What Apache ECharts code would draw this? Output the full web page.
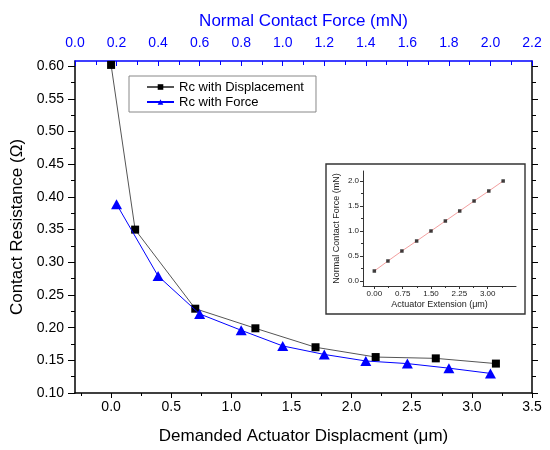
<!DOCTYPE html>
<html>
<head>
<meta charset="utf-8">
<script src="https://cdn.jsdelivr.net/npm/echarts@6/dist/echarts.min.js"></script>
<style>html,body{margin:0;padding:0;background:#fff}#c{width:550px;height:450px}</style>
</head>
<body>
<div id="c"></div>
<script>
// ---- data ----
const dispX = [0.0, 0.2, 0.7, 1.2, 1.7, 2.2, 2.7, 3.2];
const rcDisp = [0.602, 0.350, 0.229, 0.199, 0.170, 0.155, 0.153, 0.145];
const forceX = [0.2, 0.4, 0.6, 0.8, 1.0, 1.2, 1.4, 1.6, 1.8, 2.0];
const rcForce = [0.389, 0.279, 0.221, 0.196, 0.172, 0.159, 0.149, 0.145, 0.138, 0.130];
const insetExt = [0.0, 0.36, 0.73, 1.12, 1.50, 1.88, 2.26, 2.64, 3.03, 3.41];
const insetForce = [0.2, 0.4, 0.6, 0.8, 1.0, 1.2, 1.4, 1.6, 1.8, 2.0];
// ---- tick positions / labels ----
const bottomTicks = [0.0, 0.5, 1.0, 1.5, 2.0, 2.5, 3.0, 3.5];
const bottomMinor = [-0.25, 0.25, 0.75, 1.25, 1.75, 2.25, 2.75, 3.25];
const leftTicks = [0.10, 0.15, 0.20, 0.25, 0.30, 0.35, 0.40, 0.45, 0.50, 0.55, 0.60];
const leftMinor = [0.125, 0.175, 0.225, 0.275, 0.325, 0.375, 0.425, 0.475, 0.525, 0.575];
const insetXTicks = [0.0, 0.75, 1.5, 2.25, 3.0];
const insetXMinor = [0.375, 1.125, 1.875, 2.625, 3.375];
const insetYTicks = [0.0, 0.5, 1.0, 1.5, 2.0];
const insetYMinor = [0.25, 0.75, 1.25, 1.75];

const FONT = "'Liberation Sans', Arial, sans-serif";
const BLUE = '#0000ff';

const pair = (xs, ys) => xs.map((x, i) => [x, ys[i]]);

const chart = echarts.init(document.getElementById('c'), null, {renderer: 'canvas'});

function minorAxis(base, vals, len, color) {
  return Object.assign({
    type: 'value',
    axisLine: {show: false, onZero: false},
    axisLabel: {show: false},
    splitLine: {show: false},
    axisTick: {show: true, length: len, customValues: vals, lineStyle: {color: color || '#000', width: 1}}
  }, base);
}

const option = {
  animation: false,
  textStyle: {fontFamily: FONT},
  grid: [
    {left: 75, top: 61, width: 457, height: 334, containLabel: false},
    {left: 363, top: 171, width: 153, height: 115, containLabel: false}
  ],
  legend: {
    data: ['Rc with Displacement', 'Rc with Force'],
    orient: 'vertical',
    left: 129, top: 76,
    padding: [4, 12, 3, 17],
    itemWidth: 27, itemHeight: 7, itemGap: 1,
    borderColor: '#888', borderWidth: 1,
    textStyle: {fontFamily: FONT, fontSize: 13, lineHeight: 14, color: '#000'}
  },
  graphic: [{
    type: 'rect', z: 0,
    shape: {x: 326, y: 164, width: 199, height: 150},
    style: {fill: '#fff', stroke: '#333', lineWidth: 1.4}
  }],
  xAxis: [
    { // 0 bottom main
      type: 'value', gridIndex: 0, position: 'bottom', min: -0.3, max: 3.5,
      name: 'Demanded Actuator Displacment (\u03bcm)', nameLocation: 'middle', nameGap: 35,
      nameTextStyle: {fontFamily: FONT, fontSize: 17, color: '#000'},
      axisLine: {show: true, onZero: false, lineStyle: {color: '#000', width: 1.5}},
      axisTick: {show: true, length: 5, customValues: bottomTicks, lineStyle: {color: '#000', width: 1}},
      axisLabel: {customValues: bottomTicks, formatter: v => v.toFixed(1), margin: 7,
        fontFamily: FONT, fontSize: 14, color: '#000'},
      splitLine: {show: false}
    },
    minorAxis({gridIndex: 0, position: 'bottom', min: -0.3, max: 3.5}, bottomMinor, 3),
    { // 2 top (force)
      type: 'value', gridIndex: 0, position: 'top', min: 0, max: 2.2, interval: 0.2,
      name: 'Normal Contact Force (mN)', nameLocation: 'middle', nameGap: 31,
      nameTextStyle: {fontFamily: FONT, fontSize: 17, color: BLUE},
      axisLine: {show: true, onZero: false, lineStyle: {color: BLUE, width: 1.5}},
      axisTick: {show: true, inside: true, length: 5, lineStyle: {color: BLUE, width: 1}},
      minorTick: {show: true, splitNumber: 2, length: 4, lineStyle: {color: BLUE, width: 1}},
      axisLabel: {formatter: v => v.toFixed(1), margin: 11, fontFamily: FONT, fontSize: 14, color: BLUE},
      splitLine: {show: false}
    },
    { // 3 inset x
      type: 'value', gridIndex: 1, position: 'bottom', min: -0.3, max: 3.75,
      name: 'Actuator Extension (\u03bcm)', nameLocation: 'middle', nameGap: 14,
      nameTextStyle: {fontFamily: FONT, fontSize: 9, color: '#222'},
      axisLine: {show: true, onZero: false, lineStyle: {color: '#333', width: 1}},
      axisTick: {show: true, length: 3, customValues: insetXTicks, lineStyle: {color: '#333'}},
      axisLabel: {customValues: insetXTicks, formatter: v => v.toFixed(2), margin: 4,
        fontFamily: FONT, fontSize: 8, color: '#222'},
      splitLine: {show: false}
    },
    minorAxis({gridIndex: 1, position: 'bottom', min: -0.3, max: 3.75}, insetXMinor, 2, '#333')
  ],
  yAxis: [
    { // 0 left main
      type: 'value', gridIndex: 0, position: 'left', min: 0.1, max: 0.608,
      name: 'Contact Resistance (\u03a9)', nameLocation: 'middle', nameGap: 42,
      nameTextStyle: {fontFamily: FONT, fontSize: 17, color: '#000'},
      axisLine: {show: true, onZero: false, lineStyle: {color: '#000', width: 1.5}},
      axisTick: {show: true, length: 7, customValues: leftTicks, lineStyle: {color: '#000', width: 1}},
      axisLabel: {customValues: leftTicks, formatter: v => v.toFixed(2), margin: 11,
        fontFamily: FONT, fontSize: 14, color: '#000'},
      splitLine: {show: false}
    },
    minorAxis({gridIndex: 0, position: 'left', min: 0.1, max: 0.608}, leftMinor, 4),
    { // 2 right main
      type: 'value', gridIndex: 0, position: 'right', min: 0.1, max: 0.608,
      axisLine: {show: true, onZero: false, lineStyle: {color: '#000', width: 1.5}},
      axisTick: {show: true, length: 6, customValues: leftTicks, lineStyle: {color: '#000', width: 1}},
      axisLabel: {show: false},
      splitLine: {show: false}
    },
    minorAxis({gridIndex: 0, position: 'right', min: 0.1, max: 0.608}, leftMinor, 4),
    { // 4 inset y
      type: 'value', gridIndex: 1, position: 'left', min: -0.1, max: 2.2,
      name: 'Normal Contact Force (mN)', nameLocation: 'middle', nameGap: 22,
      nameTextStyle: {fontFamily: FONT, fontSize: 9, color: '#222'},
      axisLine: {show: true, onZero: false, lineStyle: {color: '#333', width: 1}},
      axisTick: {show: true, length: 3, customValues: insetYTicks, lineStyle: {color: '#333'}},
      axisLabel: {customValues: insetYTicks, formatter: v => v.toFixed(1), margin: 4,
        fontFamily: FONT, fontSize: 8, color: '#222'},
      splitLine: {show: false}
    },
    minorAxis({gridIndex: 1, position: 'left', min: -0.1, max: 2.2}, insetYMinor, 2, '#333')
  ],
  series: [
    {
      name: 'Rc with Displacement', type: 'line', xAxisIndex: 0, yAxisIndex: 0,
      data: pair(dispX, rcDisp),
      symbol: 'rect', symbolSize: 8, showAllSymbol: true,
      itemStyle: {color: '#000'},
      lineStyle: {color: '#555', width: 1},
      z: 3
    },
    {
      name: 'Rc with Force', type: 'line', xAxisIndex: 2, yAxisIndex: 0,
      data: pair(forceX, rcForce),
      symbol: 'triangle', symbolSize: [11, 10], showAllSymbol: true,
      itemStyle: {color: BLUE},
      lineStyle: {color: BLUE, width: 1},
      z: 4
    },
    {
      name: 'inset fit', type: 'line', xAxisIndex: 3, yAxisIndex: 4,
      data: pair(insetExt, insetForce),
      symbol: 'none', lineStyle: {color: '#f3a0a0', width: 1}, z: 5
    },
    {
      name: 'inset points', type: 'scatter', xAxisIndex: 3, yAxisIndex: 4,
      data: pair(insetExt, insetForce),
      symbol: 'rect', symbolSize: 3.5, itemStyle: {color: '#111'}, z: 6
    }
  ]
};
chart.setOption(option);
</script>
</body>
</html>
